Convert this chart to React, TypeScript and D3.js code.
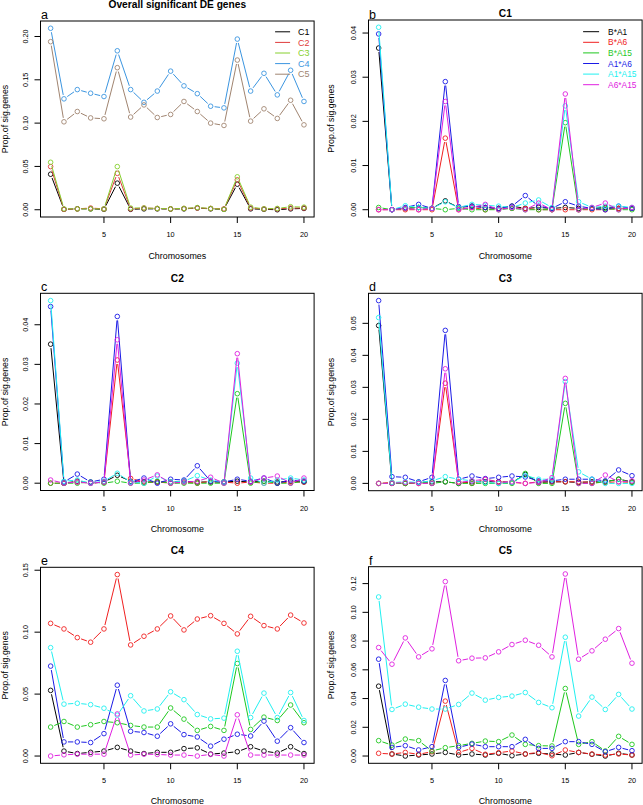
import React from 'react';
import * as d3 from 'd3';

// ---------- categories ----------
const chromosomes = [1, 2, 3, 4, 5, 6, 7, 8, 9, 10, 11, 12, 13, 14, 15, 16, 17, 18, 19, 20];

// ---------- panel a : overall ----------
const overallNames = ['C1', 'C2', 'C3', 'C4', 'C5'];
const overallColors = ['#000000', '#DF3B3B', '#86D02E', '#3B95E0', '#A08470'];
const overallC1 = [0.041, 0.0005, 0.001, 0.001, 0.0005, 0.0307, 0.0005, 0.001, 0.001, 0.0008, 0.001, 0.002, 0.001, 0.0005, 0.0295, 0.001, 0.0005, 0, 0.001, 0.0015];
const overallC2 = [0.0498, 0.0005, 0.001, 0.002, 0.001, 0.042, 0.001, 0.002, 0.0015, 0.001, 0.0015, 0.002, 0.0015, 0.001, 0.0345, 0.002, 0.001, 0.001, 0.002, 0.002];
const overallC3 = [0.0548, 0.001, 0.001, 0.001, 0.001, 0.0498, 0.002, 0.002, 0.0015, 0.001, 0.0015, 0.0025, 0.0015, 0.0005, 0.038, 0.003, 0.001, 0.0015, 0.0035, 0.003];
const overallC4 = [0.2095, 0.128, 0.1387, 0.1345, 0.1307, 0.1835, 0.1387, 0.124, 0.137, 0.16, 0.143, 0.134, 0.1195, 0.1176, 0.197, 0.137, 0.1575, 0.1326, 0.161, 0.125];
const overallC5 = [0.194, 0.1015, 0.1134, 0.106, 0.105, 0.164, 0.107, 0.121, 0.1065, 0.11, 0.125, 0.1134, 0.1, 0.0973, 0.1728, 0.1023, 0.1165, 0.1054, 0.1264, 0.098];

// ---------- pairwise contrasts ----------
const comboNames = ['B*A1', 'B*A6', 'B*A15', 'A1*A6', 'A1*A15', 'A6*A15'];
const comboColors = ['#000000', '#F02020', '#1EC81E', '#1A1AE6', '#20F0F0', '#E020E0'];

// C1
const c1BA1 = [0.0366, 0, 0.0003, 0.0005, 0.0003, 0.002, 0.0005, 0.0008, 0.0005, 0.0003, 0.0008, 0.0003, 0.0005, 0.0003, 0.0005, 0.0003, 0.0003, 0.0005, 0.0003, 0.0003];
const c1BA6 = [0, 0, 0, 0, 0, 0.0162, 0, 0.0005, 0, 0.0003, 0.0003, 0.0003, 0, 0, 0, 0, 0, 0, 0.0003, 0.0003];
const c1BA15 = [0.0005, 0, 0.0003, 0.0005, 0.0003, 0, 0.0003, 0, 0, 0, 0.0003, 0, 0, 0, 0.0197, 0, 0.0003, 0.0003, 0, 0];
const c1A1A6 = [0.0398, 0, 0.0005, 0.0012, 0.0003, 0.029, 0.0007, 0.0008, 0.0005, 0.0003, 0.0008, 0.0032, 0.0008, 0.0003, 0.0018, 0.0008, 0.0003, 0, 0.0008, 0.0003];
const c1A1A15 = [0.0413, 0, 0.0009, 0.0005, 0.0003, 0.0018, 0.0005, 0.0012, 0.001, 0.0008, 0.0005, 0.0015, 0.0022, 0.0005, 0.0235, 0.0018, 0.0005, 0.0008, 0.0008, 0.0005];
const c1A6A15 = [0, 0, 0.0003, 0, 0.0003, 0.0245, 0, 0.0005, 0.0012, 0, 0.0005, 0, 0.0015, 0, 0.0262, 0, 0.0005, 0.0015, 0, 0.0005];

// C2
const c2BA1 = [0.0351, 0, 0.0005, 0, 0.0003, 0.002, 0.0005, 0.0003, 0.0003, 0.0003, 0.0005, 0.0003, 0.0003, 0.0003, 0.0005, 0.0003, 0.0005, 0.0003, 0.0005, 0.0003];
const c2BA6 = [0, 0, 0.0003, 0, 0.0003, 0.0311, 0.0012, 0.0003, 0.0003, 0, 0.0003, 0, 0.0005, 0.0003, 0, 0.0003, 0, 0, 0.0003, 0.0003];
const c2BA15 = [0, 0, 0, 0.0003, 0, 0.0005, 0, 0, 0.0005, 0, 0, 0, 0, 0, 0.0226, 0, 0.0005, 0, 0, 0.0005];
const c2A1A6 = [0.0446, 0.0003, 0.0023, 0.0003, 0.001, 0.0421, 0.0003, 0.0013, 0, 0.001, 0.0008, 0.0044, 0.0005, 0.0003, 0.001, 0.0005, 0.0013, 0, 0.0008, 0.0005];
const c2A1A15 = [0.0461, 0.0005, 0.0008, 0, 0.0005, 0.0025, 0.0003, 0, 0.0018, 0.0003, 0.0005, 0.0019, 0.0008, 0.0003, 0.0303, 0.0013, 0, 0.0008, 0.0013, 0.0008];
const c2A6A15 = [0.0008, 0, 0.0003, 0, 0.0003, 0.0362, 0, 0.0008, 0.0021, 0, 0.0003, 0.0005, 0.0015, 0, 0.0327, 0.0003, 0.0013, 0.0018, 0, 0.0013];

// C3
const c3BA1 = [0.0493, 0, 0, 0.0003, 0.0005, 0.0005, 0, 0.0005, 0.0005, 0.0005, 0.0003, 0.0028, 0.0003, 0.0005, 0.0005, 0.0003, 0.0005, 0.0005, 0.0013, 0.0005];
const c3BA6 = [0, 0.0003, 0, 0, 0, 0.0313, 0.0005, 0, 0.0013, 0.0005, 0.0003, 0, 0.0005, 0.0005, 0.0005, 0.0005, 0.0003, 0.0003, 0.0005, 0.0003];
const c3BA15 = [0, 0, 0, 0.0003, 0, 0.0005, 0, 0, 0, 0, 0, 0.0031, 0, 0, 0.025, 0, 0, 0.0005, 0.0013, 0.0003];
const c3A1A6 = [0.0571, 0.0021, 0.0019, 0.0005, 0.0019, 0.0478, 0.0013, 0.0023, 0.0015, 0.0019, 0.0023, 0.002, 0.0008, 0.0008, 0.0013, 0.0013, 0.0013, 0.0008, 0.0042, 0.0024];
const c3A1A15 = [0.0518, 0.0003, 0.0005, 0.0003, 0.0008, 0.0021, 0.0013, 0.0008, 0.0003, 0, 0.0003, 0.0025, 0.0013, 0.0013, 0.0318, 0.0036, 0.0013, 0, 0, 0];
const c3A6A15 = [0, 0, 0.0003, 0, 0, 0.0358, 0.0003, 0.0008, 0.0013, 0.0003, 0.0005, 0, 0.0003, 0.0018, 0.0328, 0, 0, 0.0026, 0.0005, 0.0008];

// C4
const c4BA1 = [0.053, 0.004, 0.002, 0.003, 0.004, 0.007, 0.004, 0.002, 0.003, 0.003, 0.006, 0.0066, 0.0016, 0.0024, 0.0035, 0.0075, 0.004, 0.0024, 0.0075, 0.002];
const c4BA6 = [0.1071, 0.1026, 0.0956, 0.0919, 0.1026, 0.1465, 0.0897, 0.0967, 0.1026, 0.1131, 0.1018, 0.1106, 0.1133, 0.1071, 0.0986, 0.1128, 0.1053, 0.1026, 0.1138, 0.1074];
const c4BA15 = [0.0234, 0.0279, 0.0234, 0.0253, 0.0279, 0.0269, 0.0247, 0.0234, 0.0234, 0.0388, 0.0298, 0.0207, 0.0239, 0.0207, 0.0747, 0.0215, 0.0314, 0.0287, 0.0412, 0.0269];
const c4A1A6 = [0.0726, 0.0114, 0.0114, 0.0109, 0.0181, 0.0572, 0.02, 0.019, 0.016, 0.026, 0.0173, 0.0154, 0.008, 0.0136, 0.0176, 0.0162, 0.0282, 0.012, 0.0229, 0.0109];
const c4A1A15 = [0.0875, 0.0419, 0.0426, 0.0415, 0.0386, 0.033, 0.0487, 0.0364, 0.038, 0.0519, 0.0455, 0.0335, 0.03, 0.0306, 0.0846, 0.0311, 0.0508, 0.0311, 0.0513, 0.0287];
const c4A6A15 = [0, 0.001, 0.0015, 0.0015, 0.0015, 0.034, 0.0008, 0.0015, 0.0013, 0.0008, 0.0008, 0, 0.0013, 0, 0.0333, 0.0008, 0.0008, 0.0008, 0.0008, 0.0008];

// C5
const c5BA1 = [0.0486, 0.0014, 0, 0.0007, 0.0014, 0.0025, 0.0007, 0.0014, 0.0007, 0.0019, 0.0002, 0.0014, 0.0019, 0.0014, 0.0007, 0.0025, 0.0012, 0, 0.0019, 0.0007];
const c5BA6 = [0.0019, 0.0014, 0.0025, 0.0012, 0.003, 0.0382, 0.0025, 0.0053, 0.0012, 0.0023, 0.0035, 0.0014, 0.0025, 0.0002, 0.0042, 0.0025, 0.0014, 0.0007, 0.0014, 0.0007];
const c5BA15 = [0.0107, 0.0076, 0.0118, 0.0107, 0.0035, 0.0058, 0.0072, 0.0088, 0.0104, 0.01, 0.0146, 0.0081, 0.0072, 0.007, 0.047, 0.0081, 0.01, 0.0035, 0.0137, 0.0081];
const c5A1A6 = [0.0674, 0.006, 0.0072, 0.0042, 0.0065, 0.0526, 0.006, 0.0083, 0.0065, 0.0065, 0.0065, 0.0116, 0.0053, 0.0053, 0.01, 0.01, 0.0081, 0.003, 0.006, 0.0037];
const c5A1A15 = [0.1107, 0.0324, 0.0361, 0.034, 0.0327, 0.0327, 0.0359, 0.0438, 0.0389, 0.0408, 0.0417, 0.0442, 0.0373, 0.0336, 0.0827, 0.0278, 0.041, 0.0324, 0.0429, 0.0327];
const c5A6A15 = [0.0755, 0.0639, 0.0822, 0.069, 0.0746, 0.1214, 0.0663, 0.0681, 0.0683, 0.0725, 0.0776, 0.0806, 0.0771, 0.069, 0.1267, 0.0674, 0.0732, 0.0813, 0.0887, 0.0646];

// ---------- tick labels ----------
const xTicks = [5, 10, 15, 20];
const yTicksA = [0, 0.05, 0.1, 0.15, 0.2];
const yTicksB = [0, 0.01, 0.02, 0.03, 0.04];
const yTicksC = [0, 0.01, 0.02, 0.03, 0.04];
const yTicksD = [0, 0.01, 0.02, 0.03, 0.04, 0.05];
const yTicksE = [0, 0.05, 0.1, 0.15];
const yTicksF = [0, 0.02, 0.04, 0.06, 0.08, 0.1, 0.12];

const FONT = '"Liberation Sans", Arial, Helvetica, sans-serif';

type Box = { l: number; r: number; t: number; b: number };

interface PanelProps {
  box: Box;
  series: number[][];
  colors: string[];
  names: string[];
  title: string;
  titleY: number;
  letter: string;
  letterY: number;
  xLabel: string;
  xLabelDy: number;
  yLabelDx: number;
  yTicks: number[];
  legend?: { lineX0: number; lineX1: number; textX: number; y0: number; dy: number; fs: number };
}

function Panel(p: PanelProps) {
  const { box } = p;
  const [xmin, xmax] = d3.extent(chromosomes) as [number, number];
  const xpad = (xmax - xmin) * 0.04;
  const x = d3.scaleLinear().domain([xmin - xpad, xmax + xpad]).range([box.l, box.r]);
  const all = p.series.flat();
  const ymin = d3.min(all) as number;
  const ymax = d3.max(all) as number;
  const ypad = (ymax - ymin) * 0.04;
  const y = d3.scaleLinear().domain([ymin - ypad, ymax + ypad]).range([box.b, box.t]);
  const gap = 4;
  const r = 2.3;
  const fmt = d3.format('.2f');

  return (
    <g fontFamily={FONT}>
      {p.series.map((vals, si) => {
        const pts = vals.map((v, i) => [x(chromosomes[i]), y(v)] as [number, number]);
        const segs: JSX.Element[] = [];
        for (let i = 0; i < pts.length - 1; i++) {
          const [x1, y1] = pts[i];
          const [x2, y2] = pts[i + 1];
          const dx = x2 - x1, dy = y2 - y1;
          const len = Math.hypot(dx, dy);
          if (len <= 2 * gap) continue;
          const ux = dx / len, uy = dy / len;
          segs.push(
            <line key={'s' + i} x1={x1 + ux * gap} y1={y1 + uy * gap} x2={x2 - ux * gap} y2={y2 - uy * gap}
              stroke={p.colors[si]} strokeWidth={1} />
          );
        }
        return (
          <g key={si}>
            {segs}
            {pts.map(([cx, cy], i) => (
              <circle key={'c' + i} cx={cx} cy={cy} r={r} fill="none" stroke={p.colors[si]} strokeWidth={0.9} />
            ))}
          </g>
        );
      })}
      <rect x={box.l} y={box.t} width={box.r - box.l} height={box.b - box.t} fill="none" stroke="#000" strokeWidth={1} />
      {/* x axis */}
      {xTicks.map((t) => (
        <g key={'xt' + t}>
          <line x1={x(t)} x2={x(t)} y1={box.b} y2={box.b + 6} stroke="#000" strokeWidth={1} />
          <text x={x(t)} y={box.b + 20} fontSize={7.3} textAnchor="middle">{t}</text>
        </g>
      ))}
      <text x={(box.l + box.r) / 2} y={box.b + p.xLabelDy} fontSize={8.9} textAnchor="middle">{p.xLabel}</text>
      {/* y axis */}
      {p.yTicks.map((t) => (
        <g key={'yt' + t}>
          <line x1={box.l - 6} x2={box.l} y1={y(t)} y2={y(t)} stroke="#000" strokeWidth={1} />
          <text transform={`translate(${box.l - 12.6},${y(t)}) rotate(-90)`} fontSize={7.3} textAnchor="middle">{fmt(t)}</text>
        </g>
      ))}
      <text transform={`translate(${box.l - p.yLabelDx},${(box.t + box.b) / 2}) rotate(-90)`} fontSize={8.8} textAnchor="middle">Prop.of sig.genes</text>
      {/* titles */}
      <text x={(box.l + box.r) / 2} y={p.titleY} fontSize={10.2} fontWeight="bold" textAnchor="middle">{p.title}</text>
      <text x={box.l + 0.5} y={p.letterY} fontSize={12.5}>{p.letter}</text>
      {/* legend */}
      {p.legend && p.names.map((n, i) => {
        const L = p.legend!;
        const yy = L.y0 + i * L.dy;
        return (
          <g key={'lg' + i}>
            <line x1={L.lineX0} x2={L.lineX1} y1={yy} y2={yy} stroke={p.colors[i]} strokeWidth={1} />
            <text x={L.textX} y={yy + L.fs * 0.36} fontSize={L.fs} fill={p.colors[i]}>{n}</text>
          </g>
        );
      })}
    </g>
  );
}

export default function App() {
  const leftL = 40.5, leftR = 314.1, rightL = 368.5, rightR = 642.1;
  const boxA: Box = { l: leftL, r: leftR, t: 21, b: 217 };
  const boxB: Box = { l: rightL, r: rightR, t: 20, b: 217 };
  const boxC: Box = { l: leftL, r: leftR, t: 293.3, b: 490.5 };
  const boxD: Box = { l: rightL, r: rightR, t: 293.3, b: 490.7 };
  const boxE: Box = { l: leftL, r: leftR, t: 567.3, b: 763.3 };
  const boxF: Box = { l: rightL, r: rightR, t: 566.7, b: 763.3 };

  return (
    <svg width={643} height={805} style={{ position: 'absolute', left: 0, top: 0, background: '#fff' }}>
      <rect x={0} y={0} width={643} height={805} fill="#fff" />
      <Panel box={boxA} series={[overallC1, overallC2, overallC3, overallC4, overallC5]} colors={overallColors}
        names={overallNames} title="Overall significant DE genes" titleY={8.3} letter="a" letterY={18.5}
        xLabel="Chromosomes" xLabelDy={41.5} yLabelDx={32.8} yTicks={yTicksA}
        legend={{ lineX0: leftR - 39, lineX1: leftR - 24, textX: leftR - 16, y0: 31.8, dy: 10.6, fs: 9 }} />
      <Panel box={boxB} series={[c1BA1, c1BA6, c1BA15, c1A1A6, c1A1A15, c1A6A15]} colors={comboColors}
        names={comboNames} title="C1" titleY={17.4} letter="b" letterY={18.5}
        xLabel="Chromosome" xLabelDy={41.5} yLabelDx={34.5} yTicks={yTicksB}
        legend={{ lineX0: rightR - 59, lineX1: rightR - 43, textX: rightR - 34, y0: 31.7, dy: 10.6, fs: 8.4 }} />
      <Panel box={boxC} series={[c2BA1, c2BA6, c2BA15, c2A1A6, c2A1A15, c2A6A15]} colors={comboColors}
        names={comboNames} title="C2" titleY={282} letter="c" letterY={290.8}
        xLabel="Chromosome" xLabelDy={41.5} yLabelDx={32.8} yTicks={yTicksC} />
      <Panel box={boxD} series={[c3BA1, c3BA6, c3BA15, c3A1A6, c3A1A15, c3A6A15]} colors={comboColors}
        names={comboNames} title="C3" titleY={282} letter="d" letterY={291}
        xLabel="Chromosome" xLabelDy={41.5} yLabelDx={34.5} yTicks={yTicksD} />
      <Panel box={boxE} series={[c4BA1, c4BA6, c4BA15, c4A1A6, c4A1A15, c4A6A15]} colors={comboColors}
        names={comboNames} title="C4" titleY={554} letter="e" letterY={564.5}
        xLabel="Chromosome" xLabelDy={40.5} yLabelDx={32.8} yTicks={yTicksE} />
      <Panel box={boxF} series={[c5BA1, c5BA6, c5BA15, c5A1A6, c5A1A15, c5A6A15]} colors={comboColors}
        names={comboNames} title="C5" titleY={554} letter="f" letterY={564.5}
        xLabel="Chromosome" xLabelDy={40.5} yLabelDx={34.5} yTicks={yTicksF} />
    </svg>
  );
}
